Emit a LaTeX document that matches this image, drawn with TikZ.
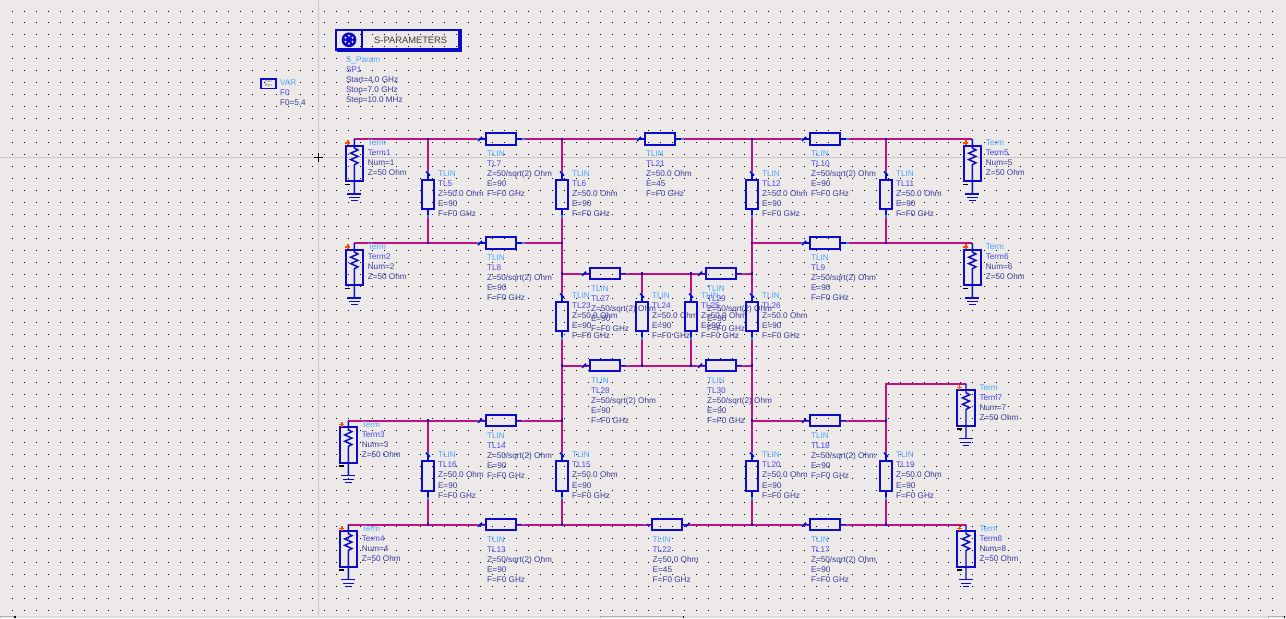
\documentclass[tikz,border=0pt]{standalone}
\usepackage{fontspec}
\setmainfont{Liberation Sans}
\usepackage{xcolor}
\usetikzlibrary{calc, positioning, backgrounds}
\definecolor{sheetbg}{HTML}{ECE9E8}
\definecolor{wirepink}{HTML}{C0107F}
\definecolor{compblue}{HTML}{0A0AC8}
\definecolor{pinblue}{HTML}{3C7CE6}
\definecolor{lbltype}{HTML}{4DA6FF}
\definecolor{lblname}{HTML}{4A4AE6}
\definecolor{lblparm}{HTML}{3C3C98}
\definecolor{crossgray}{HTML}{CBC9C8}
\definecolor{stripgray}{HTML}{DDDBDA}
\tikzset{
    x=0.75pt, y=-0.75pt,
    griddot/.style={black, line width=0.75pt, dash pattern=on 0.75pt off 8.25pt},
    wire/.style={draw=wirepink, line width=1.5pt},
    junction/.style={rectangle, fill=compblue, inner sep=0pt, outer sep=0pt, minimum size=2pt},
    tlh/.style={rectangle, draw=compblue, line width=1.5pt, inner sep=0pt, outer sep=0pt, minimum width=22.2pt, minimum height=8.6pt},
    tlv/.style={rectangle, draw=compblue, line width=1.5pt, inner sep=0pt, outer sep=0pt, minimum width=8.6pt, minimum height=22.2pt},
    termbox/.style={rectangle, draw=compblue, line width=1.5pt, inner sep=0pt, outer sep=0pt, minimum width=13pt, minimum height=26.6pt},
    stub/.style={draw=compblue, line width=1.1pt},
    pinend/.style={draw=pinblue, line width=1.1pt},
    pintick/.style={draw=compblue, line width=1.2pt},
    gndline/.style={draw=compblue, line width=0.9pt},
    parmtext/.style={anchor=north west, inner sep=0pt, outer sep=0pt, align=left, text=lblparm, font=\fontsize{6.15}{7.55}\selectfont},
    spbox/.style={rectangle, draw=compblue, line width=1.6pt, inner sep=0pt, outer sep=0pt, minimum height=14.6pt, font=\fontsize{7}{8}\selectfont, text=black!75}
}
\newcommand{\zq}{50/sqrt(2)}
\newcommand{\zo}{50.0}
\newcommand{\tyl}[1]{\textcolor{lbltype}{#1}}
\newcommand{\nml}[1]{\textcolor{lblname}{#1}}
\begin{document}
\begin{tikzpicture}
    \useasboundingbox (0,0) rectangle (1286,618);

    % Junctions
    \foreach \nm/\xx/\yy in {a1/428/139, a2/562/139, a3/752/139, a4/886/139,
        b1/428/243, b2/562/243, b3/752/243, b4/886/243,
        c1/562/273.7, c2/642/273.7, c3/691/273.7, c4/752/273.7,
        d1/562/365.7, d2/642/365.7, d3/691/365.7, d4/752/365.7,
        e1/428/420.7, e2/562/420.7, e3/752/420.7, e4/886/420.7,
        f1/428/524.7, f2/562/524.7, f3/752/524.7, f4/886/524.7}
        \node[junction] (\nm) at (\xx,\yy) {};
    \coordinate (g4) at (886,383.7);

    % Series lines
    \foreach \nm/\xx/\yy/\zz/\ee/\p in {TL7/501/139/\zq/90/-1, TL21/660/139/\zo/45/-1, TL10/825/139/\zq/90/-1,
        TL8/501/243/\zq/90/-1, TL9/825/243/\zq/90/-1,
        TL27/605/273.7/\zq/90/-1, TL29/721/273.7/\zq/90/-1,
        TL28/605/365.7/\zq/90/-1, TL30/721/365.7/\zq/90/-1,
        TL14/501/420.7/\zq/90/-1, TL18/825/420.7/\zq/90/-1,
        TL13/501/524.7/\zq/90/-1, TL22/666.7/524.7/\zo/45/1, TL17/825/524.7/\zq/90/-1} {
        \node[tlh] (\nm) at (\xx,\yy) {};
        \draw[stub] (\nm.west) -- ++(-8,0);
        \draw[stub] (\nm.east) -- ++(8,0);
        \draw[pinend] (\nm.west) ++(-9,0) -- ++(3,0);
        \draw[pinend] (\nm.east) ++(9,0) -- ++(-3,0);
        \draw[pintick] ([shift={(\p*21,0)}]\nm.center) ++(-2,2) -- ++(4,-4);
        \node[parmtext] (\nm text) at ([shift={(-14,12)}]\nm.center)
            {\tyl{TLIN}\\\nml{\nm}\\Z=\zz\ Ohm\\E=\ee\\F=F0 GHz};
    }

    % Shunt lines
    \foreach \nm/\xx/\yy in {TL5/428/194.5, TL6/562/194.5, TL12/752/194.5, TL11/886/194.5,
        TL23/562/316.5, TL24/642/316.5, TL25/691/316.5, TL26/752/316.5,
        TL16/428/475.7, TL15/562/475.7, TL20/752/475.7, TL19/886/475.7} {
        \node[tlv] (\nm) at (\xx,\yy) {};
        \draw[stub] (\nm.north) -- ++(0,-8);
        \draw[stub] (\nm.south) -- ++(0,8);
        \draw[pinend] (\nm.north) ++(0,-9) -- ++(0,3);
        \draw[pinend] (\nm.south) ++(0,9) -- ++(0,-3);
        \draw[pintick] ([shift={(0,-21)}]\nm.center) ++(-2,-2) -- ++(4,4);
        \node[parmtext] (\nm text) at ([shift={(10,-23.5)}]\nm.center)
            {\tyl{TLIN}\\\nml{\nm}\\Z=\zo\ Ohm\\E=90\\F=F0 GHz};
    }

    % Terminations
    \foreach \nm/\n/\xx/\yy in {Term1/1/354.3/139, Term2/2/354.3/243, Term3/3/348.3/420.7, Term4/4/348.3/524.7,
        Term5/5/972.3/139, Term6/6/972.3/243, Term7/7/966/383.7, Term8/8/966/524.7} {
        \coordinate (\nm pin) at (\xx,\yy);
        \coordinate (\nm gnd) at (\xx,\yy+55);
        \node[termbox] (\nm) at (\xx,\yy+24.5) {};
        \draw[stub] (\nm pin) -- ++(0,9) -- ++(3.6,2) -- ++(-7.2,3.2) -- ++(7.2,3.2) -- ++(-7.2,3.2) -- ++(7.2,3.2) -- ++(-3.6,2) -- (\nm gnd);
        \draw[gndline] ([xshift=-5.2pt]\nm gnd) -- ([xshift=5.2pt]\nm gnd);
        \draw[gndline] ([shift={(-5.2,3.4)}]\nm gnd) -- ([shift={(5.2,3.4)}]\nm gnd);
        \draw[gndline] ([shift={(-3.4,6.8)}]\nm gnd) -- ([shift={(3.4,6.8)}]\nm gnd);
        \draw[orange!60!red, line width=1.1pt] ([shift={(-9,3.8)}]\nm pin) -- ([shift={(-4,3.8)}]\nm pin);
        \draw[orange!60!red, line width=1.1pt] ([shift={(-6.5,1.3)}]\nm pin) -- ([shift={(-6.5,6.3)}]\nm pin);
        \draw[black, line width=1.1pt] ([shift={(-9,45.5)}]\nm pin) -- ([shift={(-4,45.5)}]\nm pin);
        \node[parmtext] (\nm text) at ([shift={(13.5,0.8)}]\nm pin)
            {\tyl{Term}\\\nml{\nm}\\Num=\n\\Z=50 Ohm};
    }

    % S-parameter block
    \node[spbox, minimum width=19.5pt] (spicon) at (349,39.8) {};
    \node[spbox, minimum width=73pt, right=0pt of spicon] (spname) {S-PARAMETERS\hspace{3.5pt}};
    \draw[compblue, line width=1.1pt] ([shift={(1,1.6)}]spicon.south west) -- ([shift={(1.6,1.6)}]spname.south east) -- ([shift={(1.6,-1)}]spname.north east);
    \fill[compblue] (spicon.center) circle[radius=7.4];
    \foreach \ang in {30,90,150,210,270,330}
        \fill[sheetbg] ([shift={(\ang:4)}]spicon.center) circle[radius=1.1];
    \node[parmtext] (sptext) at (346,57) {\tyl{S\_Param}\\\nml{SP1}\\Start=4.0 GHz\\Stop=7.0 GHz\\Step=10.0 MHz};

    % Variable block
    \node[rectangle, draw=compblue, line width=1.3pt, inner sep=0pt, outer sep=0pt, minimum width=11pt, minimum height=7pt, align=center, text=black!55, font=\fontsize{2.8}{3}\selectfont] (varicon) at (268.3,83.8) {VAR\\Eqn};
    \node[parmtext] (vartext) at (280,80) {\tyl{VAR}\\\nml{F0}\\F0=5.4};

    \begin{scope}[on background layer]
        % Sheet and grid
        \fill[sheetbg] (0,0) rectangle (1286,618);
        \foreach \k in {0,...,50}
            \draw[griddot] (11.8,11+11.99*\k) -- (1282,11+11.99*\k);
        \draw[crossgray, line width=0.75pt] (318,0) -- (318,618);
        \draw[crossgray, line width=0.75pt] (0,157.3) -- (1286,157.3);

        % Wires
        \draw[wire] (Term1pin) -- (a1) -- (TL7) -- (a2) -- (TL21) -- (a3) -- (TL10) -- (a4) -- (Term5pin);
        \draw[wire] (Term2pin) -- (b1) -- (TL8) -- (b2);
        \draw[wire] (b3) -- (TL9) -- (b4) -- (Term6pin);
        \draw[wire] (a1) -- (TL5) -- (b1);
        \draw[wire] (a4) -- (TL11) -- (b4);
        \draw[wire] (a2) -- (TL6) -- (b2) -- (c1) -- (TL23) -- (d1) -- (e2) -- (TL15) -- (f2);
        \draw[wire] (a3) -- (TL12) -- (b3) -- (c4) -- (TL26) -- (d4) -- (e3) -- (TL20) -- (f3);
        \draw[wire] (c1) -- (TL27) -- (c2) -- (c3) -- (TL29) -- (c4);
        \draw[wire] (d1) -- (TL28) -- (d2) -- (d3) -- (TL30) -- (d4);
        \draw[wire] (c2) -- (TL24) -- (d2);
        \draw[wire] (c3) -- (TL25) -- (d3);
        \draw[wire] (Term3pin) -- (e1) -- (TL14) -- (e2);
        \draw[wire] (e3) -- (TL18) -- (e4) -- (TL19) -- (f4);
        \draw[wire] (e4) -- (g4) -- (Term7pin);
        \draw[wire] (e1) -- (TL16) -- (f1);
        \draw[wire] (Term4pin) -- (f1) -- (TL13) -- (f2) -- (TL22) -- (f3) -- (TL17) -- (f4) -- (Term8pin);
    \end{scope}

    % Cursor
    \draw[black, line width=0.75pt] (313.5,157.3) -- (322.5,157.3);
    \draw[black, line width=0.75pt] (318,152.8) -- (318,161.8);

    % Scroll strip
    \fill[stripgray] (0,615.5) rectangle (1286,618);
    \foreach \xa/\xb in {0/15, 600.7/683.5, 1268.7/1284.5} {
        \fill[white!92!black] (\xa,616) rectangle (\xb,618);
        \draw[gray!60, line width=0.75pt] (\xa,618) |- (\xb,616);
        \draw[black, line width=0.9pt] (\xb,615.5) -- (\xb,618);
    }
\end{tikzpicture}
\end{document}
